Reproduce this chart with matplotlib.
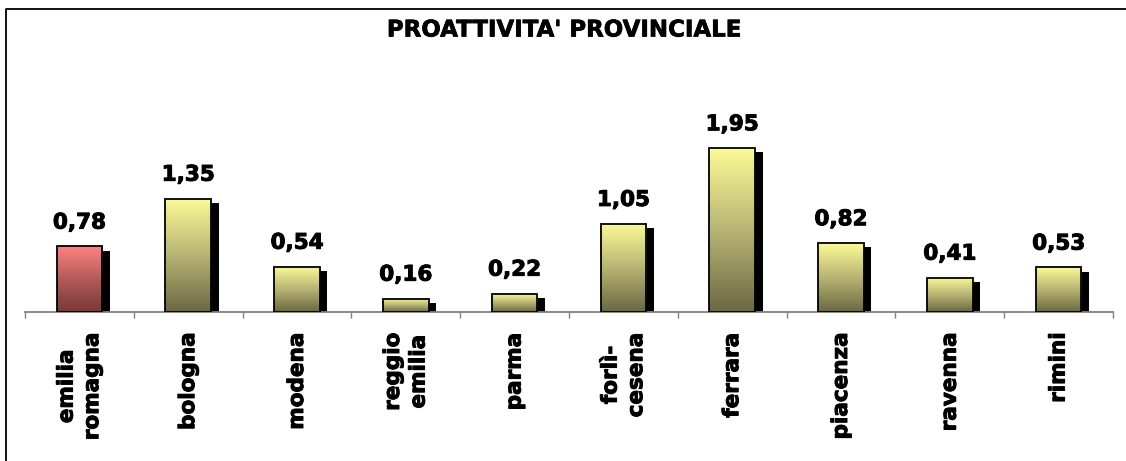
import numpy as np
import matplotlib.pyplot as plt
import matplotlib.patheffects as pe
from matplotlib.colors import LinearSegmentedColormap
from matplotlib.lines import Line2D

title = "PROATTIVITA' PROVINCIALE"
categories = ['emilia\nromagna', 'bologna', 'modena', 'reggio\nemilia', 'parma',
              'forlì-\ncesena', 'ferrara', 'piacenza', 'ravenna', 'rimini']
values = [0.78, 1.35, 0.54, 0.16, 0.22, 1.05, 1.95, 0.82, 0.41, 0.53]

# gradients, dark at the bottom, light at the top
yellow = LinearSegmentedColormap.from_list('yel', ['#6b6843', '#b8b474', '#fbfb96'])
red = LinearSegmentedColormap.from_list('red', ['#783838', '#b45a5a', '#ff8282'])

plt.rcParams['font.family'] = 'DejaVu Sans'
fig = plt.figure(figsize=(11.26, 4.61), dpi=100)
ax = fig.add_axes([25/1126, 149/461, 1088/1126, 210/461])

x = np.arange(len(values))
w = 0.42
bars = ax.bar(x, values, width=w, color='none', edgecolor='none', zorder=1)
grad = np.linspace(0, 1, 256).reshape(-1, 1)
for i, b in enumerate(bars):
    # black drop shadow, offset right and down
    b.set_facecolor('white')
    b.set_path_effects([pe.SimplePatchShadow(offset=(5.4, -2.9), shadow_rgbFace='black', alpha=1),
                        pe.Normal()])
    cmap = red if i == 0 else yellow
    im = ax.imshow(grad, cmap=cmap, origin='lower', aspect='auto', zorder=2,
                   extent=[x[i] - w/2, x[i] + w/2, 0, values[i]])
    im.set_clip_path(b)
ax.bar(x, values, width=w, color='none', edgecolor='black', linewidth=1.3, zorder=3)

bold = [pe.withStroke(linewidth=0.7, foreground='black')]
for xi, v in zip(x, values):
    ax.annotate(f"{v:.2f}".replace('.', ','), (xi, v), xytext=(0, 10), textcoords='offset points',
                ha='center', va='bottom', fontsize=15.5, fontweight='bold', path_effects=bold)

ax.set_xlim(-0.5, len(values) - 0.5)
ax.set_ylim(0, 2.5)

for s in ['top', 'left', 'right']:
    ax.spines[s].set_visible(False)
ax.spines['bottom'].set_color('#808080')
ax.spines['bottom'].set_linewidth(1.3)
ax.set_yticks([])

ax.set_xticks(np.arange(len(values) + 1) - 0.5)
ax.set_xticklabels([])
ax.tick_params(axis='x', which='major', direction='out', length=4, width=1, color='#808080')
ax.set_xticks(x, categories, minor=True)
ax.tick_params(axis='x', which='minor', length=0, pad=15, labelsize=15.5, labelrotation=90)
for lab in ax.get_xticklabels(minor=True):
    lab.set_fontweight('bold')
    lab.set_multialignment('center')
    lab.set_linespacing(1.35)
    lab.set_path_effects(bold)

fig.text(564/1126, 1 - 30/461, title, ha='center', va='center', fontsize=16.5, fontweight='bold',
         path_effects=[pe.withStroke(linewidth=0.5, foreground='black')])

# outer chart frame (only left and top edges visible in the crop)
fx, fy = 5.5/1126, 1 - 9/461
fig.add_artist(Line2D([fx, fx, 1], [0, fy, fy], transform=fig.transFigure, color='black', lw=1.3))

fig.savefig('out.png', dpi=100)
